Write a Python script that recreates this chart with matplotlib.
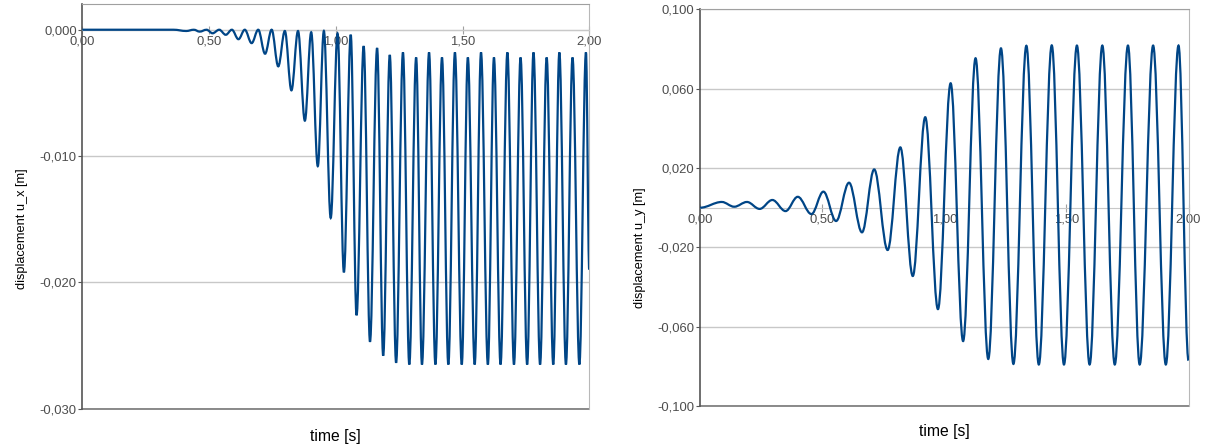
import matplotlib
matplotlib.use("Agg")
import matplotlib.pyplot as plt
from matplotlib.path import Path
from matplotlib.patches import PathPatch

plt.rcParams['font.family'] = ['Liberation Sans', 'DejaVu Sans']

# time axis ticks
x_ticks = [0.0, 0.5, 1.0, 1.5, 2.0]
x_tick_labels = ["0,00", "0,50", "1,00", "1,50", "2,00"]

# u_x: turning points (time [s], value [m])
ux_t = [0.0, 0.36, 0.41, 0.44, 0.463, 0.49, 0.514, 0.54, 0.566, 0.59, 0.616, 0.641,
        0.668, 0.694, 0.721, 0.747, 0.773, 0.799, 0.825, 0.851, 0.878, 0.903, 0.929,
        0.953, 0.98, 1.007, 1.032, 1.059, 1.082, 1.11, 1.135, 1.163, 1.187, 1.213,
        1.238, 1.265, 1.29, 1.317, 1.34, 1.368, 1.393, 1.419, 1.444, 1.47, 1.497,
        1.521, 1.548, 1.573, 1.60, 1.624, 1.65, 1.677, 1.703, 1.729, 1.755, 1.78,
        1.806, 1.832, 1.858, 1.882, 1.908, 1.934, 1.961, 1.987, 2.0]
ux_v = [0.0, 0.0, -0.0001, 0.0, -0.00015, 0.0, -0.00028, 0.0, -0.0004, 0.0, -0.00075, 0.0,
        -0.00106, 0.0, -0.0019, 0.0, -0.0029, -0.0001, -0.0048, -0.0001, -0.0072, -0.0002, -0.0108,
        -0.0001, -0.0149, -0.0003, -0.0192, -0.0004, -0.0226, -0.0013, -0.0247, -0.00145, -0.0258, -0.0020,
        -0.02636, -0.0018, -0.0265, -0.0022, -0.0265, -0.0018, -0.0265, -0.0022, -0.0265, -0.0018, -0.0265,
        -0.0022, -0.0265, -0.0018, -0.0265, -0.0022, -0.0265, -0.0018, -0.0265, -0.0022, -0.0265, -0.0018,
        -0.0265, -0.0022, -0.0265, -0.0018, -0.0265, -0.0022, -0.0265, -0.0018, -0.019]
ux_ticks = [0.0, -0.01, -0.02, -0.03]
ux_tick_labels = ["0,000", "-0,010", "-0,020", "-0,030"]

# u_y: turning points
uy_t = [0.0, 0.089, 0.14, 0.192, 0.244, 0.296, 0.35, 0.40, 0.456, 0.505, 0.557, 0.61,
        0.663, 0.713, 0.768, 0.82, 0.871, 0.922, 0.974, 1.026, 1.077, 1.128, 1.18,
        1.232, 1.283, 1.336, 1.387, 1.44, 1.49, 1.543, 1.595, 1.647, 1.698, 1.752,
        1.80, 1.855, 1.907, 1.959, 2.0]
uy_v = [0.0, 0.0029, 0.0005, 0.0029, -0.0006, 0.0039, -0.0017, 0.0055, -0.0032, 0.0081, -0.0067, 0.0126,
        -0.0124, 0.0193, -0.0213, 0.0304, -0.0344, 0.0456, -0.0511, 0.0627, -0.0672, 0.0753, -0.0762,
        0.0803, -0.0787, 0.0816, -0.0790, 0.0818, -0.0790, 0.0817, -0.0790, 0.0817, -0.0790, 0.0817,
        -0.0790, 0.0817, -0.0790, 0.0817, -0.0770]
uy_ticks = [0.1, 0.06, 0.02, -0.02, -0.06, -0.1]
uy_tick_labels = ["0,100", "0,060", "0,020", "-0,020", "-0,060", "-0,100"]

LINE = "#004586"
GRID = "#c8c8c8"
TXT = "#4d4d4d"


def smooth_path(ts, vs, k=0.3634):
    # cubic bezier between turning points, flat tangent at each one
    verts = [(ts[0], vs[0])]
    codes = [Path.MOVETO]
    for i in range(1, len(ts)):
        dt = ts[i] - ts[i - 1]
        verts += [(ts[i - 1] + k * dt, vs[i - 1]), (ts[i] - k * dt, vs[i]), (ts[i], vs[i])]
        codes += [Path.CURVE4] * 3
    return Path(verts, codes)


def style_axes(ax, yticks, ylabels, ylim, ylab, ylab_pos, xlab_y):
    ax.set_xlim(0, 2)
    ax.set_ylim(*ylim)
    ax.set_yticks(yticks)
    ax.set_yticklabels(ylabels)
    ax.set_xticks(x_ticks)
    ax.set_xticklabels(x_tick_labels)
    ax.yaxis.grid(True, color=GRID, lw=1)
    ax.set_axisbelow(True)
    ax.spines['bottom'].set_position(('data', 0))
    ax.spines['bottom'].set_color(GRID)
    ax.spines['left'].set_color("#555555")
    ax.spines['left'].set_linewidth(1.2)
    ax.spines['top'].set_color("#a0a0a0")
    ax.spines['right'].set_color("#b8b8b8")
    ax.axhline(ylim[0], color="#777777", lw=1.2, clip_on=False)
    ax.tick_params(axis='x', direction='inout', length=6, color="#a0a0a0",
                   labelcolor=TXT, labelsize=9.4, pad=1.5)
    ax.tick_params(axis='y', direction='out', length=3, color="#555555",
                   labelcolor=TXT, labelsize=9.4, pad=1)
    ax.set_xlabel("time [s]", fontsize=11.3, color="#000000")
    ax.xaxis.set_label_coords(0.5, xlab_y)
    ax.set_ylabel(ylab, fontsize=9.2, color="#000000")
    ax.yaxis.set_label_coords(*ylab_pos)


fig = plt.figure(figsize=(12.07, 4.47), dpi=100)
ax1 = fig.add_axes([0.0682, 0.0857, 0.42, 0.9043])
ax2 = fig.add_axes([0.58, 0.0913, 0.4047, 0.888])

style_axes(ax1, ux_ticks, ux_tick_labels, (-0.03, 0.002), "displacement u_x [m]", (-0.107, 0.445), -0.05)
style_axes(ax2, uy_ticks, uy_tick_labels, (-0.1, 0.1), "displacement u_y [m]", (-0.11, 0.40), -0.045)

ax1.add_patch(PathPatch(smooth_path(ux_t, ux_v), fill=False, edgecolor=LINE, lw=1.6, zorder=3))
ax2.add_patch(PathPatch(smooth_path(uy_t, uy_v), fill=False, edgecolor=LINE, lw=1.6, zorder=3))

fig.savefig("out.png", dpi=100)
